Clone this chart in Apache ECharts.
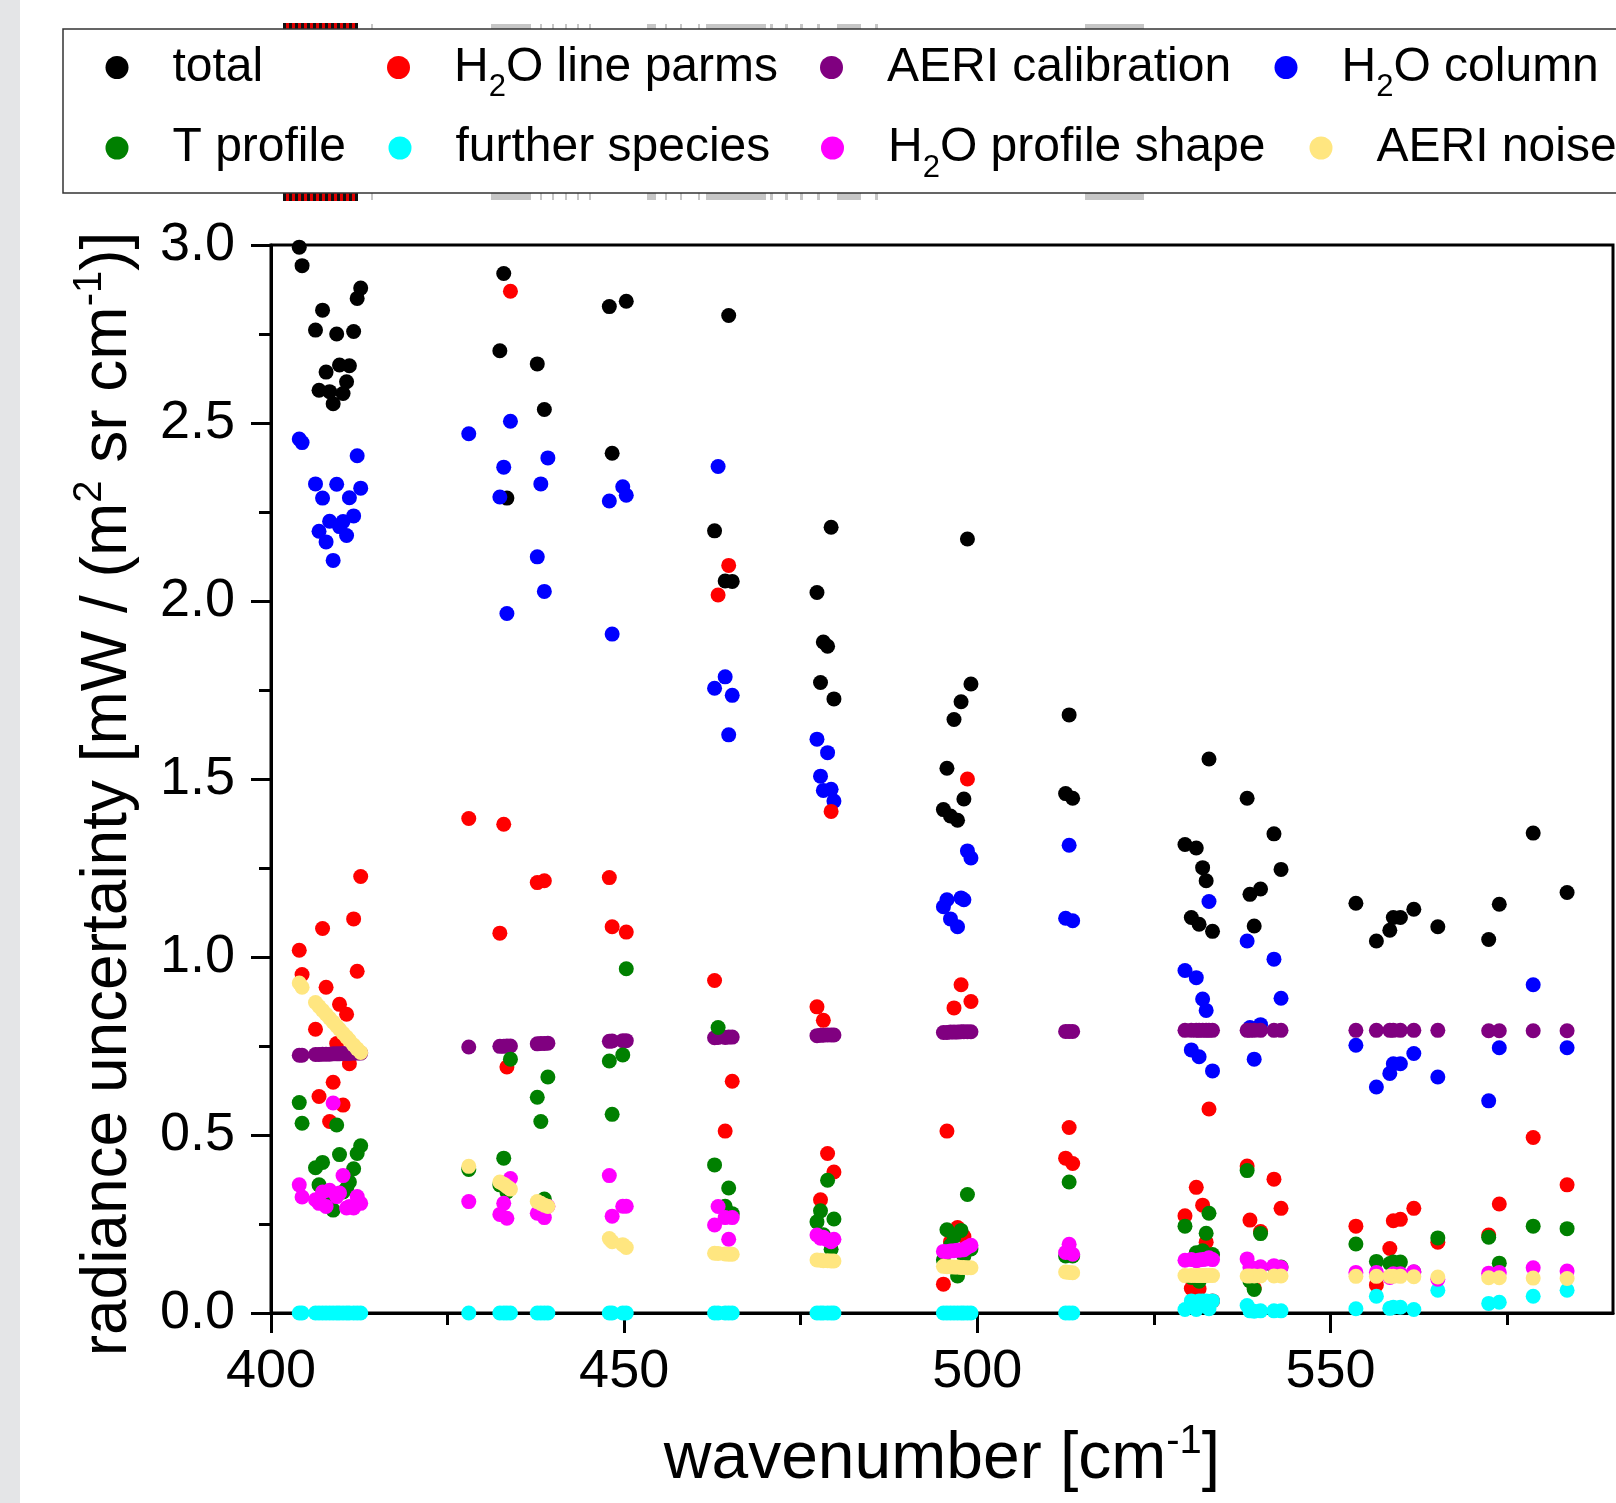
<!DOCTYPE html>
<html>
<head>
<meta charset="utf-8">
<script src="https://cdn.jsdelivr.net/npm/echarts@6/dist/echarts.min.js"></script>
<style>
html,body{margin:0;padding:0;background:#fff;}
#chart{width:1616px;height:1503px;}
</style>
</head>
<body>
<div id="chart"></div>
<script>
// wavenumbers [cm-1] of all points (clusters of micro-windows)
const wavenumbers = [
  404.0, 404.4, 406.3, 406.8, 407.3, 407.8, 408.3, 408.8, 409.3, 409.7, 410.2, 410.7, 411.1, 411.7, 412.2, 412.7,
  428.0, 432.4, 432.95, 433.4, 433.9, 437.7, 438.2, 438.7, 439.2,
  447.9, 448.3, 449.8, 450.3,
  462.8, 463.3, 464.3, 464.8, 465.3,
  477.3, 477.8, 478.2, 478.8, 479.3, 479.7,
  495.2, 495.7, 496.2, 496.7, 497.2, 497.7, 498.1, 498.6, 499.1,
  512.5, 513.0, 513.5,
  529.4, 530.3, 531.0, 531.4, 531.9, 532.4, 532.8, 533.3,
  538.2, 538.6, 539.2, 540.1, 542.0, 543.0,
  553.6, 556.5, 558.4, 558.9, 559.9, 561.8, 565.2,
  572.4, 573.9, 578.7, 583.5
];
const total = [
  2.994, 2.942, 2.761, 2.592, 2.817, 2.643, 2.588, 2.554, 2.750, 2.663, 2.583, 2.616, 2.661, 2.757, 2.850, 2.879,
  3.006, 2.703, 2.920, 2.289, null, 2.666, null, 2.538, null,
  2.827, 2.415, null, 2.842,
  2.197, null, 2.056, 2.802, 2.055,
  2.024, 1.771, 1.885, 1.873, 2.207, 1.725,
  1.414, 1.530, 1.396, 1.667, 1.384, 1.717, 1.444, 2.174, 1.767,
  1.459, 1.680, 1.446,
  1.316, 1.111, 1.306, 1.092, 1.251, 1.214, 1.556, 1.072,
  1.446, 1.176, 1.087, 1.191, 1.346, 1.246,
  1.151, 1.045, 1.075, 1.111, 1.111, 1.134, 1.085,
  1.049, 1.148, 1.348, 1.181
];
const h2oLineParms = [
  1.019, 0.951, 0.797, 0.608, 1.080, 0.915, 0.538, 0.648, 0.757, 0.867, 0.584, 0.839, 0.700, 1.107, 0.960, 1.226,
  1.389, 1.067, 1.373, 0.691, 2.870, 1.209, null, 1.214, null,
  1.223, 1.085, null, 1.070,
  0.934, 2.017, 0.511, 2.100, 0.651,
  0.860, 0.318, 0.822, 0.448, 1.409, 0.396,
  0.081, 0.511, 0.200, 0.857, 0.240, 0.922, 0.215, 1.500, 0.875,
  0.435, 0.521, 0.420,
  0.273, 0.069, 0.353, 0.068, 0.303, 0.199, 0.573, 0.034,
  0.413, 0.261, 0.070, 0.229, 0.376, 0.294,
  0.244, 0.079, 0.181, 0.259, 0.263, 0.294, 0.199,
  0.219, 0.306, 0.493, 0.360
];
const aeriCalibration = [
  0.724, 0.724, 0.726, 0.726, 0.727, 0.727, 0.727, 0.728, 0.728, 0.728, 0.729, 0.729, 0.729, 0.730, 0.730, 0.730,
  0.747, 0.749, 0.749, 0.750, 0.750, 0.756, 0.757, 0.757, 0.758,
  0.763, 0.764, 0.765, 0.765,
  0.773, 0.774, 0.774, 0.775, 0.775,
  0.779, 0.780, 0.780, 0.781, 0.781, 0.781,
  0.788, 0.788, 0.789, 0.789, 0.789, 0.790, 0.790, 0.790, 0.790,
  0.791, 0.791, 0.791,
  0.794, 0.794, 0.794, 0.794, 0.794, 0.794, 0.794, 0.794,
  0.794, 0.794, 0.794, 0.794, 0.794, 0.794,
  0.794, 0.794, 0.794, 0.794, 0.794, 0.794, 0.794,
  0.793, 0.793, 0.793, 0.793
];
const h2oColumn = [
  2.455, 2.445, 2.329, 2.196, 2.289, 2.166, 2.224, 2.114, 2.328, 2.209, 2.223, 2.184, 2.290, 2.239, 2.408, 2.317,
  2.470, 2.292, 2.376, 1.965, 2.505, 2.124, 2.329, 2.027, 2.402,
  2.281, 1.907, 2.321, 2.297,
  1.755, 2.378, 1.787, 1.624, 1.735,
  1.612, 1.508, 1.468, 1.574, 1.471, 1.438,
  1.141, 1.161, 1.107, null, 1.085, 1.166, 1.161, 1.298, 1.278,
  1.109, 1.314, 1.102,
  0.962, 0.739, 0.942, 0.720, 0.882, 0.850, 1.156, 0.680,
  1.045, 0.802, 0.713, 0.810, 0.994, 0.884,
  0.752, 0.635, 0.673, 0.700, 0.700, 0.729, 0.663,
  0.596, 0.745, 0.922, 0.745
];
const tProfile = [
  0.591, 0.533, 0.408, 0.360, 0.423, 0.330, 0.310, 0.289, 0.528, 0.445, 0.340, 0.350, 0.368, 0.405, 0.448, 0.470,
  0.403, 0.360, 0.435, 0.340, 0.713, 0.606, 0.538, 0.320, 0.663,
  0.708, 0.558, 0.725, 0.967,
  0.416, 0.802, 0.300, 0.351, 0.279,
  0.256, 0.287, 0.220, 0.373, 0.179, 0.264,
  0.149, 0.234, 0.190, 0.214, 0.104, 0.232, 0.160, 0.333, 0.180,
  0.160, 0.368, 0.160,
  0.244, 0.100, 0.169, 0.089, 0.175, 0.224, 0.280, 0.164,
  0.400, 0.090, 0.066, 0.223, 0.130, 0.129,
  0.194, 0.145, 0.139, 0.143, 0.143, 0.115, 0.211,
  0.213, 0.140, 0.244, 0.237
];
const furtherSpecies = [
  0, 0, 0, 0, 0, 0, 0, 0, 0, 0, 0, 0, 0, 0, 0, 0,
  0, 0, 0, 0, 0, 0, 0, 0, 0,
  0, 0, 0, 0,
  0, 0, 0, 0, 0,
  0, 0, 0, 0, 0, 0,
  0, 0, 0, 0, 0, 0, 0, 0, 0,
  0, 0, 0,
  0.010, 0.034, 0.010, 0.034, 0.034, 0.034, 0.012, 0.034,
  0.021, 0.006, 0.005, 0.006, 0.006, 0.006,
  0.012, 0.047, 0.013, 0.016, 0.016, 0.010, 0.064,
  0.027, 0.030, 0.047, 0.064
];
const h2oProfileShape = [
  0.360, 0.326, 0.318, 0.308, 0.340, 0.299, 0.345, 0.590, 0.327, 0.337, 0.386, 0.295, 0.299, 0.295, 0.327, 0.308,
  0.313, 0.277, 0.308, 0.266, 0.378, 0.280, 0.290, 0.268, 0.300,
  0.386, 0.272, 0.300, 0.300,
  0.247, 0.299, 0.268, 0.207, 0.268,
  0.219, 0.210, 0.213, 0.205, 0.200, 0.207,
  0.173, 0.172, 0.174, 0.175, 0.176, 0.177, 0.178, 0.185, 0.190,
  0.170, 0.193, 0.165,
  0.148, 0.150, 0.147, 0.149, 0.150, 0.152, 0.155, 0.150,
  0.152, 0.128, 0.125, 0.130, 0.133, 0.128,
  0.114, 0.114, 0.100, 0.110, 0.110, 0.116, 0.095,
  0.112, 0.114, 0.127, 0.118
];
const aeriNoise = [
  0.927, 0.915, 0.872, 0.861, 0.850, 0.839, 0.828, 0.817, 0.806, 0.797, 0.786, 0.775, 0.766, 0.753, 0.742, 0.732,
  0.412, 0.368, 0.362, 0.355, 0.348, 0.313, 0.308, 0.303, 0.299,
  0.209, 0.200, 0.192, 0.184,
  0.168, 0.167, 0.166, 0.165, 0.165,
  0.149, 0.148, 0.147, 0.147, 0.146, 0.146,
  0.131, 0.130, 0.130, 0.129, 0.129, 0.128, 0.128, 0.127, 0.127,
  0.115, 0.114, 0.113,
  0.105, 0.105, 0.105, 0.105, 0.105, 0.105, 0.105, 0.105,
  0.104, 0.104, 0.104, 0.104, 0.104, 0.104,
  0.103, 0.103, 0.103, 0.103, 0.103, 0.102, 0.101,
  0.099, 0.099, 0.098, 0.097
];
const xMajorTicks = [400, 450, 500, 550];
const xMinorTicks = [425, 475, 525, 575];

const FONT = 'Liberation Sans, Arial, Helvetica, sans-serif';

// series in drawing order (later on top)
const seriesDefs = [
  { name: 'total', values: total, color: '#000000' },
  { name: 'H2O column', values: h2oColumn, color: '#0000ff' },
  { name: 'H2O line parms', values: h2oLineParms, color: '#ff0000' },
  { name: 'AERI calibration', values: aeriCalibration, color: '#800080' },
  { name: 'T profile', values: tProfile, color: '#008000' },
  { name: 'further species', values: furtherSpecies, color: '#00ffff' },
  { name: 'H2O profile shape', values: h2oProfileShape, color: '#ff00ff' },
  { name: 'AERI noise', values: aeriNoise, color: '#ffe680' }
];

// every label ends with the same (blank) sub token so all items share one box height
const legendLabels = {
  'total': '{a|total}{s| }',
  'H2O line parms': '{a|H}{s|2}{a|O line parms}',
  'AERI calibration': '{a|AERI calibration}{s| }',
  'H2O column': '{a|H}{s|2}{a|O column}',
  'T profile': '{a|T profile}{s| }',
  'further species': '{a|further species}{s| }',
  'H2O profile shape': '{a|H}{s|2}{a|O profile shape}',
  'AERI noise': '{a|AERI noise}{s| }'
};
const legendPlaces = [
  ['total', 105.5, 32], ['H2O line parms', 387, 32], ['AERI calibration', 820, 32], ['H2O column', 1274.5, 32],
  ['T profile', 105.5, 112.5], ['further species', 388.5, 112.5], ['H2O profile shape', 821, 112.5], ['AERI noise', 1309.5, 112.5]
];

const legendRich = {
  a: { fontSize: 48, lineHeight: 56, fontFamily: FONT, color: '#000', verticalAlign: 'middle' },
  s: { fontSize: 31, lineHeight: 56, fontFamily: FONT, color: '#000', verticalAlign: 'middle', padding: [40, 0, 0, 0] }
};

// faint rug-like remnants peeking above / below the legend frame (decoration only)
const decor = [];
for (let i = 0; i < 25; i++) {
  const c = i % 2 ? '#e00000' : '#111111';
  decor.push({ type: 'rect', shape: { x: 283 + i * 3, y: 23, width: 3, height: 7 }, style: { fill: c }, z: 0 });
  decor.push({ type: 'rect', shape: { x: 283 + i * 3, y: 193, width: 3, height: 8 }, style: { fill: c }, z: 0 });
}
[[371, 2], [491, 40], [540, 2], [552, 2], [565, 2], [577, 2], [589, 2], [647, 9], [665, 2], [680, 2], [698, 2],
 [706, 60], [770, 3], [785, 3], [800, 3], [817, 3], [837, 24], [875, 3], [1085, 34], [1118, 26]].forEach(([x, w]) => {
  decor.push({ type: 'rect', shape: { x: x, y: 24, width: w, height: 6 }, style: { fill: '#c6c6c6' }, z: 0 });
  decor.push({ type: 'rect', shape: { x: x, y: 193, width: w, height: 7 }, style: { fill: '#c6c6c6' }, z: 0 });
});

const chart = echarts.init(document.getElementById('chart'), null, { renderer: 'canvas' });

const option = {
  animation: false,
  backgroundColor: '#ffffff',
  graphic: [
    { type: 'rect', left: 0, top: 0, shape: { width: 20, height: 1503 }, style: { fill: '#e4e5e7' }, z: 0 }
  ].concat(decor).concat([
    { type: 'rect', shape: { x: 63, y: 29, width: 1600, height: 164 }, style: { fill: '#ffffff', stroke: '#333333', lineWidth: 1.5 }, z: 1 }
  ]),
  legend: legendPlaces.map(([name, left, top]) => ({
    data: [name],
    left: left,
    top: top,
    padding: 0,
    itemGap: 0,
    itemWidth: 23,
    itemHeight: 23,
    icon: 'circle',
    selectedMode: false,
    formatter: (n) => legendLabels[n],
    textStyle: { color: '#000', fontFamily: FONT, fontSize: 48, padding: [0, 0, 0, 39], rich: legendRich }
  })),
  grid: {
    left: 271, top: 245, right: 3, bottom: 184,
    show: true, borderColor: '#000', borderWidth: 3, backgroundColor: 'transparent'
  },
  xAxis: [
    {
      type: 'value', min: 400, max: 590, interval: 50, position: 'bottom',
      axisLine: { show: true, onZero: false, lineStyle: { color: '#000', width: 3 } },
      axisTick: { show: true, length: 20, customValues: xMajorTicks, lineStyle: { color: '#000', width: 3 } },
      axisLabel: { customValues: xMajorTicks, color: '#000', fontSize: 54, fontFamily: FONT, margin: 32 },
      splitLine: { show: false },
      name: '{a|wavenumber [cm}{s|-1}{a|]}',
      nameLocation: 'middle',
      nameGap: 108,
      nameTextStyle: {
        rich: {
          a: { fontSize: 66, lineHeight: 78, fontFamily: FONT, color: '#000', verticalAlign: 'middle' },
          s: { fontSize: 40, lineHeight: 78, fontFamily: FONT, color: '#000', verticalAlign: 'middle', padding: [0, 0, 36, 0] }
        }
      }
    },
    {
      type: 'value', min: 400, max: 590, interval: 50, position: 'bottom',
      axisLine: { show: false, onZero: false },
      axisTick: { show: true, length: 12, customValues: xMinorTicks, lineStyle: { color: '#000', width: 3 } },
      axisLabel: { show: false },
      splitLine: { show: false }
    }
  ],
  yAxis: {
    type: 'value', min: 0, max: 3, interval: 0.5,
    axisLine: { show: true, lineStyle: { color: '#000', width: 3 } },
    axisTick: { show: true, length: 20, lineStyle: { color: '#000', width: 3 } },
    minorTick: { show: true, splitNumber: 2, length: 12, lineStyle: { color: '#000', width: 3 } },
    axisLabel: { color: '#000', fontSize: 54, fontFamily: FONT, margin: 36, formatter: (v) => v.toFixed(1) },
    splitLine: { show: false },
    minorSplitLine: { show: false },
    name: '{a|radiance uncertainty [mW / (m}{s|2}{a| sr cm}{s|-1}{a|)]}',
    nameLocation: 'middle',
    nameRotate: 90,
    nameGap: 125,
    nameTextStyle: {
      padding: [0, 30, 0, 0],
      rich: {
        a: { fontSize: 64, lineHeight: 76, fontFamily: FONT, color: '#000', verticalAlign: 'middle' },
        s: { fontSize: 40, lineHeight: 76, fontFamily: FONT, color: '#000', verticalAlign: 'middle', padding: [0, 0, 36, 0] }
      }
    }
  },
  series: seriesDefs.map((d) => ({
    name: d.name,
    type: 'scatter',
    xAxisIndex: 0,
    yAxisIndex: 0,
    symbol: 'circle',
    symbolSize: 15,
    itemStyle: { color: d.color, opacity: 1 },
    emphasis: { disabled: true },
    data: wavenumbers.map((x, i) => [x, d.values[i]]).filter((p) => p[1] !== null)
  }))
};

chart.setOption(option);
</script>
</body>
</html>
